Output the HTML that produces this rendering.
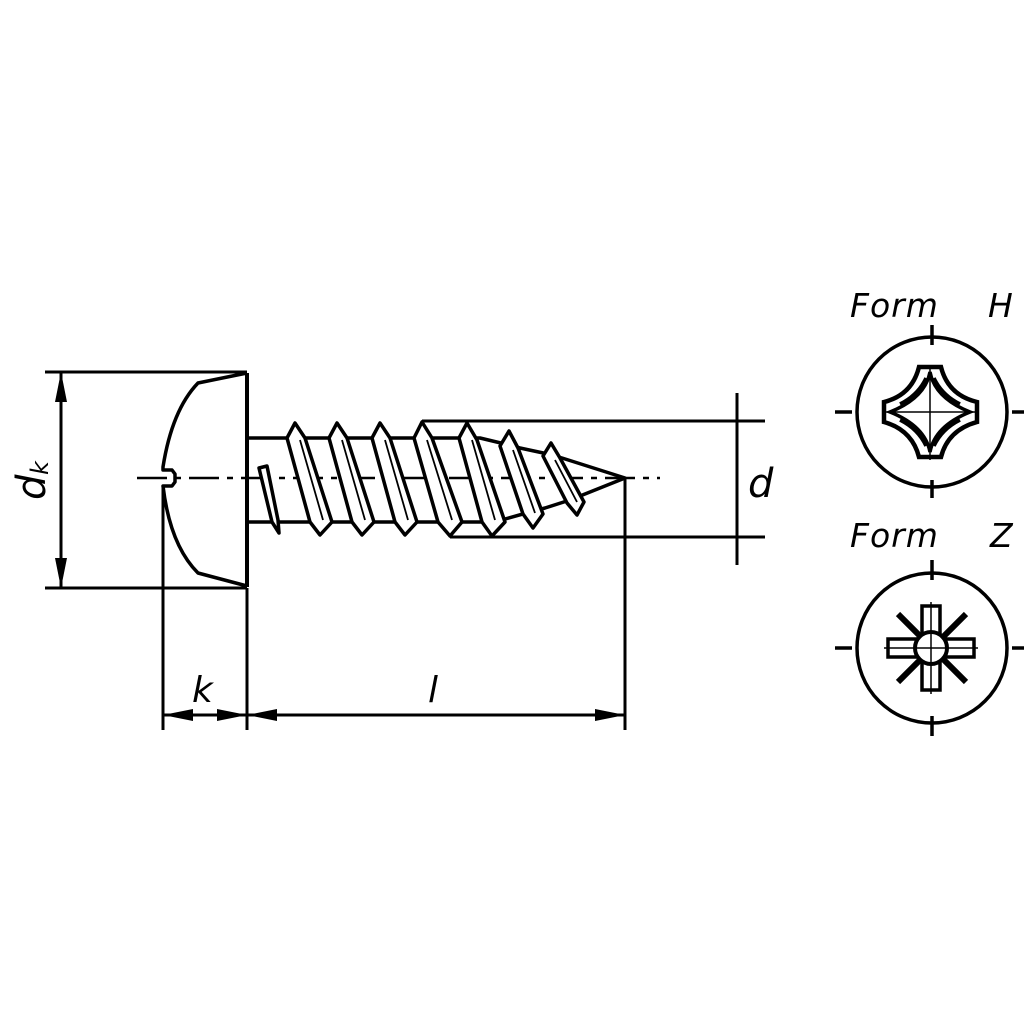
<!DOCTYPE html>
<html><head><meta charset="utf-8"><style>
html,body{margin:0;padding:0;background:#fff;}
svg{display:block;}
text{font-family:"DejaVu Sans","Liberation Sans",sans-serif;font-style:italic;fill:#000;}
</style></head><body>
<svg width="1024" height="1024" viewBox="0 0 1024 1024" xmlns="http://www.w3.org/2000/svg">
<g stroke="#000" fill="none" stroke-width="3" stroke-linejoin="round">
  <line x1="45" y1="372" x2="247" y2="372"/>
  <line x1="45" y1="588" x2="247" y2="588"/>
  <line x1="61" y1="372" x2="61" y2="588"/>
  <path d="M247,373 L247,587" stroke-width="4"/>
  <path d="M247,373 L198,383 Q172,410 163,467 L163,470 L172,470 L175,474 L175,482 L172,486 L163,486 Q170,545 198,573 L247,586" stroke-width="3.5"/>
  <line x1="137" y1="478" x2="660" y2="478" stroke-width="2.5" stroke-dasharray="30,8,6,8"/>
  <path d="M247,438 L480,438 L505,444 L520,448 L548,454 L562,458 L625,478 L585,494 L570,500 L545,508 L530,512 L505,519 L490,522 L247,522" stroke-width="3.5"/>
  <line x1="422" y1="421" x2="765" y2="421"/>
  <line x1="450" y1="537" x2="765" y2="537"/>
  <line x1="737" y1="393" x2="737" y2="565"/>
  <line x1="163" y1="486" x2="163" y2="730"/>
  <line x1="247" y1="588" x2="247" y2="730"/>
  <line x1="625" y1="478" x2="625" y2="730"/>
  <line x1="163" y1="715" x2="625" y2="715"/>
</g>
<g stroke="#000" fill="#fff" stroke-width="3.5" stroke-linejoin="round">
  <polygon points="259,468 267,466 278,520 279,533 272,522"/>
  <polygon points="287,438 295,423 305,438 332,522 320,535 310,522"/>
  <polygon points="329,438 337,423 347,438 374,522 362,535 352,522"/>
  <polygon points="372,438 380,423 390,438 417,522 405,535 395,522"/>
  <polygon points="414,438 422,422 432,438 462,522 450,536 438,522"/>
  <polygon points="459,438 467,423 477,440 505,522 492,536 482,522"/>
  <polygon points="500,446 509,431 518,448 543,514 533,528 523,514"/>
  <polygon points="543,456 551,443 560,458 584,502 577,515 567,503"/>
</g>
<g stroke="#000" stroke-width="1.8">
  <line x1="300" y1="440" x2="323" y2="520"/>
  <line x1="342" y1="440" x2="365" y2="520"/>
  <line x1="385" y1="440" x2="408" y2="520"/>
  <line x1="427" y1="440" x2="452" y2="520"/>
  <line x1="472" y1="440" x2="495" y2="520"/>
  <line x1="513" y1="450" x2="535" y2="513"/>
  <line x1="555" y1="460" x2="577" y2="502"/>
</g>
<g fill="#000">
  <polygon points="61,372 55,402 67,402"/>
  <polygon points="61,588 55,558 67,558"/>
  <polygon points="163,715 193,709 193,721"/>
  <polygon points="247,715 217,709 217,721"/>
  <polygon points="247,715 277,709 277,721"/>
  <polygon points="625,715 595,709 595,721"/>
</g>
<text x="192" y="702" font-size="36">k</text>
<text x="428" y="702" font-size="36">l</text>
<text x="748" y="497" font-size="40">d</text>
<text transform="translate(45,500) rotate(-90)" font-size="40">d</text>
<text transform="translate(48,475) rotate(-90)" font-size="24">k</text>
<text x="850" y="317" font-size="33" letter-spacing="1">Form</text>
<text x="988" y="317" font-size="33">H</text>
<text x="850" y="547" font-size="33" letter-spacing="1">Form</text>
<text x="990" y="547" font-size="33">Z</text>
<g stroke="#000" fill="none" stroke-width="3.5">
  <circle cx="932" cy="412" r="75"/>
  <line x1="835" y1="412" x2="852" y2="412"/><line x1="1012" y1="412" x2="1024" y2="412"/>
  <line x1="932" y1="325" x2="932" y2="345"/><line x1="932" y1="480" x2="932" y2="498"/>
  <line x1="884" y1="412" x2="978" y2="412" stroke-width="1.5"/>
  <line x1="930" y1="365" x2="930" y2="460" stroke-width="1.5"/>
  <path d="M919,367 L941,367 Q948,395 977,402 L977,422 Q948,430 941,457 L919,457 Q912,430 884,422 L884,402 Q912,395 919,367 Z" stroke-width="4.5"/>
  <path d="M930,372 Q935,398 970,412 Q935,426 930,452 Q925,426 890,412 Q925,398 930,372 Z" stroke-width="3.5"/>
  <path d="M900,404 Q918,395 926,378 M960,404 Q942,395 934,378 M900,420 Q918,429 926,446 M960,420 Q942,429 934,446" stroke-width="3.5"/>
</g>
<g stroke="#000" fill="none" stroke-width="3.5">
  <circle cx="932" cy="648" r="75"/>
  <line x1="835" y1="648" x2="852" y2="648"/><line x1="1012" y1="648" x2="1024" y2="648"/>
  <line x1="932" y1="560" x2="932" y2="580"/><line x1="932" y1="716" x2="932" y2="736"/>
  <line x1="898" y1="614" x2="966" y2="682" stroke-width="6"/>
  <line x1="966" y1="614" x2="898" y2="682" stroke-width="6"/>
  <rect x="922" y="606" width="18" height="84" fill="#fff"/>
  <rect x="888" y="639" width="86" height="18" fill="#fff"/>
  <circle cx="931" cy="648" r="16" fill="#fff" stroke-width="4"/>
  <line x1="931" y1="602" x2="931" y2="694" stroke-width="1.5"/>
  <line x1="884" y1="648" x2="978" y2="648" stroke-width="1.5"/>
</g>
</svg>
</body></html>
